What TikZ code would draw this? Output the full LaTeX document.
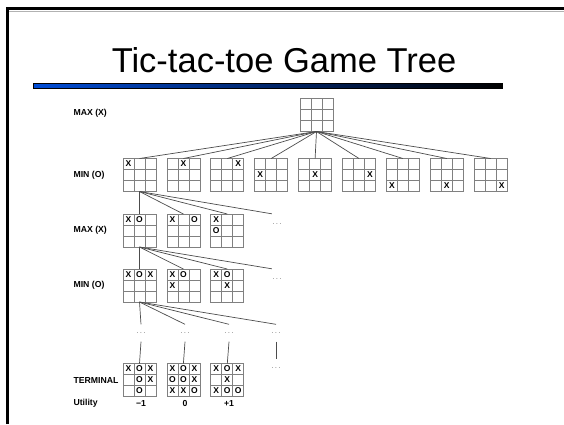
\documentclass[tikz,border=0pt]{standalone}
\usepackage{fontspec}
\setmainfont{Liberation Sans}
\usetikzlibrary{calc,positioning}
\definecolor{barblue}{RGB}{0,76,214}
\tikzset{
  board/.style={draw=gray, line width=0.8pt, minimum size=33pt, inner sep=0pt, outer sep=0pt,
    path picture={
      \foreach \d in {-5.5,5.5} {
        \draw[gray, line width=0.8pt] ([xshift=\d pt]path picture bounding box.north) -- ([xshift=\d pt]path picture bounding box.south);
        \draw[gray, line width=0.8pt] ([yshift=\d pt]path picture bounding box.west) -- ([yshift=\d pt]path picture bounding box.east);
      }}},
  cellmark/.style={font=\fontsize{8.5}{8.5}\selectfont\bfseries, inner sep=0pt},
  rowlabel/.style={anchor=west, font=\fontsize{8.7}{8.7}\selectfont\bfseries},
  edge/.style={gray!60!black, line width=0.7pt},
  more/.style={text=gray, font=\fontsize{8}{8}\selectfont, minimum width=10pt, minimum height=20pt, inner sep=0pt},
}
\newcommand{\putmarks}[2]{\foreach \r/\c/\m in {#2} {\node[cellmark] at ($(#1.center)+(11*\c-11,11*\r-11)$) {\m};}}

\begin{document}
\begin{tikzpicture}[x=1pt, y=-1pt]
  \useasboundingbox (0,0) rectangle (564,424);
  % slide frame
  \draw[gray!60, line width=1.2pt] (8.5,11.2) -- (564,11.2);
  \draw[line width=3pt] (7,424) -- (7,8.5) -- (564,8.5);
  % title and bar
  \node[font=\fontsize{34.5}{34.5}\selectfont, anchor=base] (title) at (284,72) {Tic-tac-toe Game Tree};
  \shade[left color=barblue, right color=black, draw=black, line width=0.6pt] (33,83) rectangle (502,88);

  % row labels
  \node[rowlabel] (lmax1) at (70,113) {MAX (X)};
  \node[rowlabel] (lmin1) at (70,175) {MIN (O)};
  \node[rowlabel] (lmax2) at (70,230.5) {MAX (X)};
  \node[rowlabel] (lmin2) at (70,285.5) {MIN (O)};
  \node[rowlabel] (lterm) at (70,380) {TERMINAL};
  \node[rowlabel] (lutil) at (70,403) {Utility};

  % root
  \node[board] (root) at (316.5,115) {};

  % first moves of X
  \foreach \k/\r/\c in {1/0/0,2/0/1,3/0/2,4/1/0,5/1/1,6/1/2,7/2/0,8/2/1,9/2/2} {
    \node[board] (min\k) at ({139.5+43.9*(\k-1)},175) {};
    \node[cellmark] at ($(min\k.center)+(11*\c-11,11*\r-11)$) {X};
    \draw[edge] (root.south) -- (min\k.north);
  }

  % replies of O
  \node[board] (max1) at (139.5,230.5) {};
  \node[board] (max2) at (183.4,230.5) {};
  \node[board] (max3) at (227.3,230.5) {};
  \node[more] (moreA) at (277,224) {.\,.\,.};
  \putmarks{max1}{0/0/X,0/1/O}
  \putmarks{max2}{0/0/X,0/2/O}
  \putmarks{max3}{0/0/X,1/0/O}
  \foreach \n in {max1,max2,max3} \draw[edge] (min1.south) -- (\n.north);
  \draw[edge] (min1.south) -- (moreA.north west);

  % second moves of X
  \node[board] (minb1) at (139.5,285.5) {};
  \node[board] (minb2) at (183.4,285.5) {};
  \node[board] (minb3) at (227.3,285.5) {};
  \node[more] (moreB) at (277,279) {.\,.\,.};
  \putmarks{minb1}{0/0/X,0/1/O,0/2/X}
  \putmarks{minb2}{0/0/X,0/1/O,1/0/X}
  \putmarks{minb3}{0/0/X,0/1/O,1/1/X}
  \foreach \n in {minb1,minb2,minb3} \draw[edge] (max1.south) -- (\n.north);
  \draw[edge] (max1.south) -- (moreB.north west);

  % rest of the game
  \foreach \i/\x in {1/141,2/185,3/229,4/276} {
    \node[more, minimum height=17pt] (lvl\i) at (\x,333) {.\,.\,.};
    \draw[edge] (minb1.south) -- (lvl\i.north);
  }

  % terminal states
  \node[board] (term1) at (139.5,380) {};
  \node[board] (term2) at (183.4,380) {};
  \node[board] (term3) at (227.3,380) {};
  \node[more, minimum height=17pt] (moreT) at (276,368) {.\,.\,.};
  \putmarks{term1}{0/0/X,0/1/O,0/2/X,1/1/O,1/2/X,2/1/O}
  \putmarks{term2}{0/0/X,0/1/O,0/2/X,1/0/O,1/1/O,1/2/X,2/0/X,2/1/X,2/2/O}
  \putmarks{term3}{0/0/X,0/1/O,0/2/X,1/1/X,2/0/X,2/1/O,2/2/O}
  \draw[edge] (lvl1.south) -- (term1.north);
  \draw[edge] (lvl2.south) -- (term2.north);
  \draw[edge] (lvl3.south) -- (term3.north);
  \draw[edge] (lvl4.south) -- (moreT.north);

  % utilities
  \node[rowlabel, anchor=center] (u1) at (141,403) {\textminus1};
  \node[rowlabel, anchor=center] (u2) at (185,403) {0};
  \node[rowlabel, anchor=center] (u3) at (229,403) {+1};
\end{tikzpicture}
\end{document}
